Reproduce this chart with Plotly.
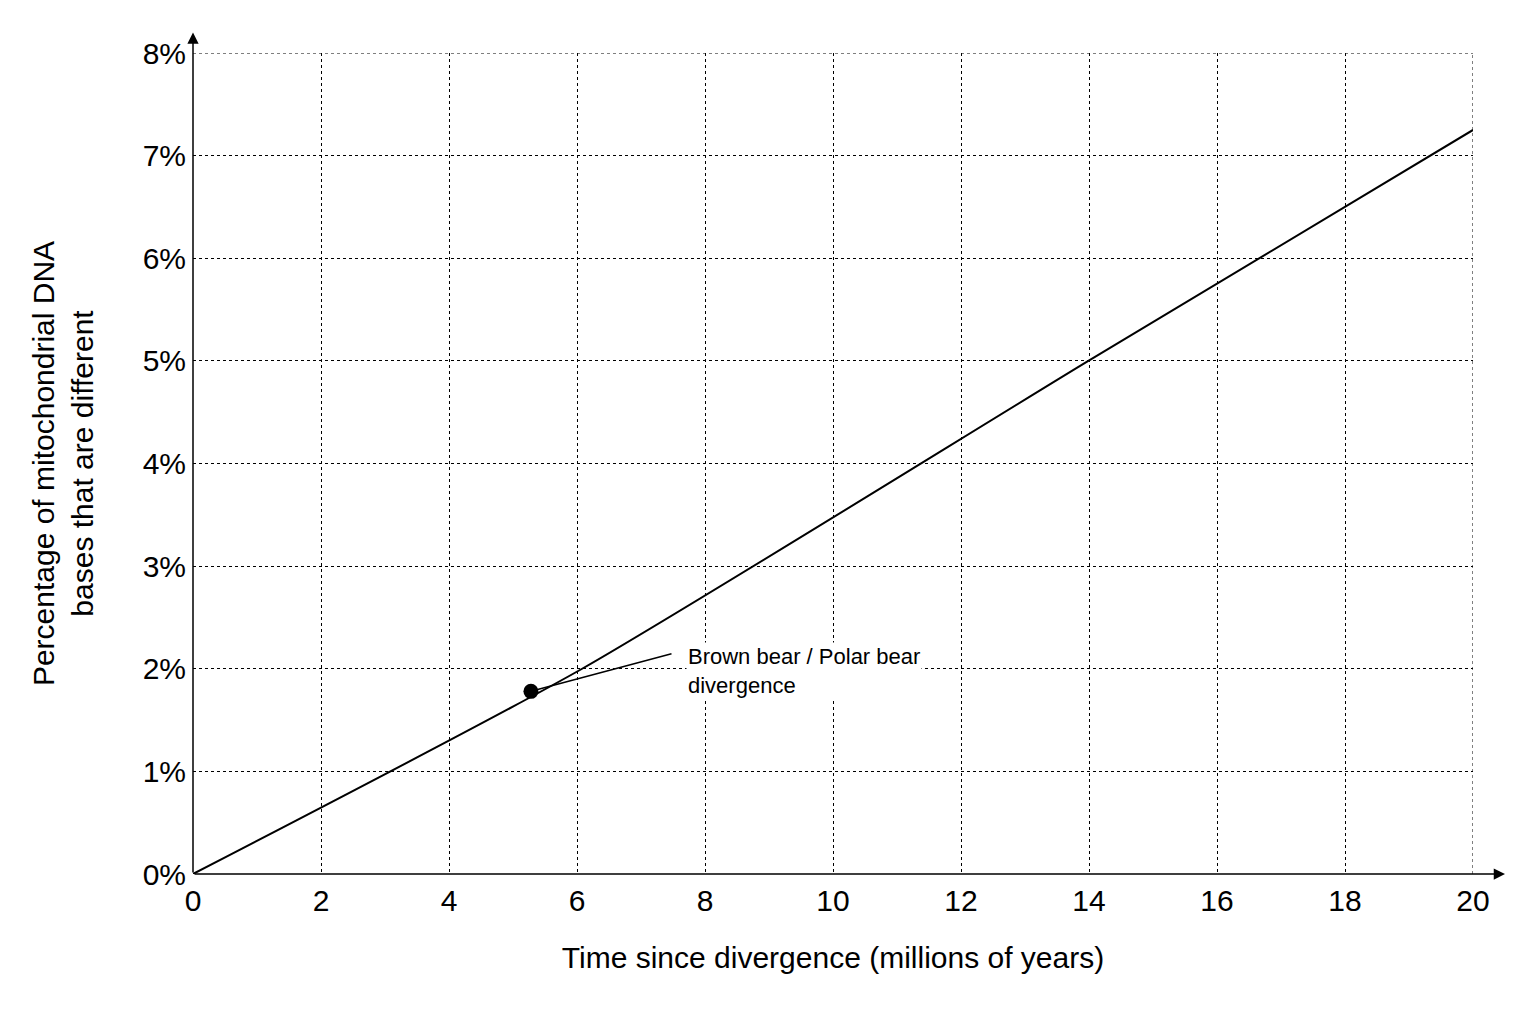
import plotly.graph_objects as go

line_x = [0, 6.08, 13.99, 20]
line_y = [0, 2.0, 5.0, 7.25]
point_x = [5.28]
point_y = [1.78]
label = "Brown bear / Polar bear<br>divergence"
x_ticks = list(range(0, 21, 2))
y_ticks = list(range(0, 9))

fig = go.Figure()
fig.add_trace(go.Scatter(x=line_x, y=line_y, mode="lines", line=dict(color="black", width=2, shape="spline", smoothing=0.6), hoverinfo="skip"))
fig.add_trace(go.Scatter(x=point_x, y=point_y, mode="markers", marker=dict(color="black", size=15)))
fig.add_annotation(x=point_x[0], y=point_y[0], ax=7.5, ay=2.15, axref="x", ayref="y",
                   showarrow=True, arrowhead=0, arrowwidth=1.5, arrowcolor="black", text="", standoff=6)
fig.add_annotation(x=7.7, y=1.98, xanchor="left", yanchor="middle", align="left", showarrow=False,
                   text=label, font=dict(size=22, color="black"), bgcolor="white")
# axis arrows
fig.add_annotation(x=20.5, y=0, ax=0, ay=0, axref="x", ayref="y", xref="x", yref="y",
                   showarrow=True, arrowhead=2, arrowsize=1.5, arrowwidth=1.5, arrowcolor="black", text="")
fig.add_annotation(x=0, y=8.2, ax=0, ay=0, axref="x", ayref="y",
                   showarrow=True, arrowhead=2, arrowsize=1.5, arrowwidth=1.5, arrowcolor="black", text="")
# top and right dotted borders
fig.add_shape(type="line", x0=0, x1=20, y0=8, y1=8, line=dict(color="black", width=1, dash="dot"), layer="below")
fig.add_shape(type="line", x0=20, x1=20, y0=0, y1=8, line=dict(color="black", width=1, dash="dot"), layer="below")
grid = dict(showgrid=True, gridcolor="black", griddash="dot", gridwidth=1, zeroline=False,
            ticks="outside", ticklen=0, tickfont=dict(size=30, color="black"))
fig.update_xaxes(range=[0, 20], tickvals=x_ticks, showline=False, **grid,
                 title=dict(text="Time since divergence (millions of years)", font=dict(size=30, color="black"), standoff=30))
fig.update_yaxes(range=[0, 8], tickvals=y_ticks, ticktext=[f"{v}%" for v in y_ticks], showline=False, **grid,
                 title=dict(text="Percentage of mitochondrial DNA<br>bases that are different", font=dict(size=30, color="black"), standoff=40))
fig.update_layout(width=1536, height=1024, plot_bgcolor="white", paper_bgcolor="white", showlegend=False,
                  margin=dict(l=185, r=71, t=45, b=158), font=dict(family="Liberation Sans, Arial", color="black"))
fig.write_html("out.html")
